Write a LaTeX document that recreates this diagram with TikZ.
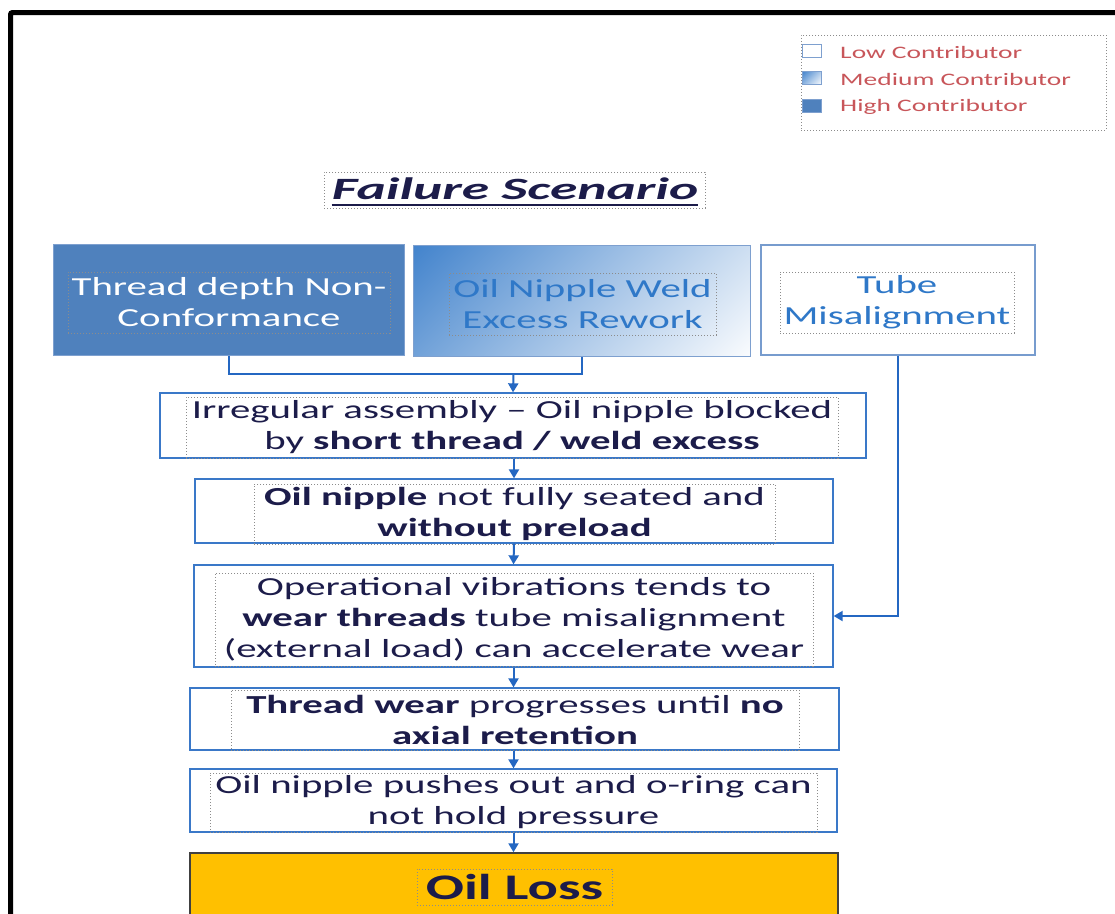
\documentclass[tikz,border=0pt]{standalone}
\usepackage{fontspec}
\setmainfont{Carlito}[FakeStretch=1.57]
\newfontfamily\titlefont{Carlito}[FakeStretch=1.79]
\usetikzlibrary{arrows.meta}

\definecolor{flow}{HTML}{2467C2}
\definecolor{boxline}{HTML}{3A78C8}
\definecolor{hifill}{HTML}{4F81BD}
\definecolor{hiline}{HTML}{7EA0CF}
\definecolor{midblue}{HTML}{1C6AC2}
\definecolor{labblue}{HTML}{2F78C8}
\definecolor{navy}{HTML}{1C1C4A}
\definecolor{legred}{HTML}{C8565A}
\definecolor{dotgray}{HTML}{8C8C8C}
\definecolor{oilfill}{HTML}{FFC000}
\definecolor{oilline}{HTML}{404040}

% medium contributor fill: blue in one corner fading to white in the opposite one
\pgfdeclareverticalshading{mediumfade}{100bp}{%
  color(0bp)=(white); color(15bp)=(white!97!midblue); color(50bp)=(midblue!42!white); color(100bp)=(midblue)}

\tikzset{
  box/.style={draw=boxline, line width=1.3pt, fill=white, minimum width=#1, inner sep=0pt},
  dotframe/.style={draw=dotgray, line width=0.9pt, dash pattern=on 1.4pt off 1.6pt},
  txtframe/.style={dotframe, inner sep=0pt, align=center,
    font=\fontsize{26}{31}\selectfont, text=navy},
  medium/.style={shading=mediumfade, shading angle=45},
  link/.style={draw=flow, line width=2pt},
  arr/.style={link, -{Triangle[width=10pt,length=9pt]}},
  legbox/.style={minimum width=19pt, minimum height=13pt, inner sep=0pt},
  legtxt/.style={anchor=west, inner sep=0pt, text=legred, font=\fontsize{17.5}{20}\selectfont},
}

\begin{document}
\begin{tikzpicture}[x=1pt, y=-1pt]
\useasboundingbox (0,0) rectangle (1115,913);
\clip (0,0) rectangle (1115,913);
\fill[white] (0,0) rectangle (1115,913);

% outer frame
\draw[line width=5pt, rounded corners=2pt] (10.5,938) -- (10.5,12.5) -- (1140,12.5);

% legend
\node[dotframe, minimum width=305pt, minimum height=95pt] (legend) at (953.5,82.5) {};
\node[legbox, draw=hiline, fill=white] (lowsq) at (812,50.5) {};
\node[legbox, draw=hiline, medium] (medsq) at (812,77.5) {};
\node[legbox, draw=hiline, fill=hifill] (hisq) at (812,105.5) {};
\node[legtxt] (lowt) at (840,52) {Low Contributor};
\node[legtxt] (medt) at (840,79) {Medium Contributor};
\node[legtxt] (hit) at (840,107) {High Contributor};

% title
\node[dotframe, minimum width=381pt, minimum height=36pt] (titlebox) at (514.5,190) {};
\node[inner sep=0pt, text=navy, font=\fontsize{31}{34}\titlefont\bfseries\itshape] (title) at (515,189) {Failure Scenario};
\draw[navy, line width=2.5pt] ([yshift=-5pt]title.base west) -- ([yshift=-5pt]title.base east);

% contributor boxes
\node[draw=hiline, line width=1pt, fill=hifill, minimum width=351pt, minimum height=111pt] (a) at (228.5,299.5) {};
\node[txtframe, text=white, minimum width=322pt, minimum height=61pt] (at) at (229,302.5) {Thread depth Non-\\Conformance};

\node[draw=hiline, line width=1pt, medium, minimum width=337pt, minimum height=111pt] (b) at (581.5,300.5) {};
\node[txtframe, text=labblue, minimum width=267pt, minimum height=62pt] (bt) at (582.5,304) {Oil Nipple Weld\\Excess Rework};

\node[draw=hiline!90!boxline, line width=1.3pt, fill=white, minimum width=274pt, minimum height=110pt] (c) at (898,300) {};
\node[txtframe, text=labblue, minimum width=234pt, minimum height=61pt] (ct) at (897,302.5) {Tube\\Misalignment};

% chain of events
\node[box=706pt, minimum height=65pt] (d) at (513,425.5) {};
\node[txtframe, minimum width=652pt, minimum height=61pt] (dt) at (512,427.5) {Irregular assembly -- Oil nipple blocked\\by \textbf{short thread / weld excess}};

\node[box=638pt, minimum height=64pt] (e) at (514,511) {};
\node[txtframe, minimum width=521pt, minimum height=60pt] (et) at (514.5,514) {\textbf{Oil nipple} not fully seated and\\\textbf{without preload}};

\node[box=639pt, minimum height=102pt] (f) at (513.5,616) {};
\node[txtframe, minimum width=598pt, minimum height=93pt] (ft) at (514,619.5) {Operational vibrations tends to\\\textbf{wear threads} tube misalignment\\(external load) can accelerate wear};

\node[box=649pt, minimum height=62pt] (g) at (514.5,719) {};
\node[txtframe, minimum width=568pt, minimum height=60pt] (gt) at (515,720) {\textbf{Thread wear} progresses until \textbf{no}\\\textbf{axial retention}};

\node[box=647pt, minimum height=63pt] (h) at (513.5,800.5) {};
\node[txtframe, minimum width=607pt, minimum height=59pt] (ht) at (513.5,802.5) {Oil nipple pushes out and o-ring can\\not hold pressure};

\node[draw=oilline, line width=1.5pt, fill=oilfill, minimum width=648pt, minimum height=80pt] (i) at (514,893) {};
\node[txtframe, minimum width=195pt, minimum height=36pt, font=\fontsize{36}{38}\selectfont\bfseries] (it) at (514.5,887) {Oil Loss};

% connectors
\coordinate (j) at (513.5,374);
\draw[link] (a.south) |- (j) -| (b.south);
\draw[arr] (j) -- (d.north);
\draw[arr] (d.south -| e.north) -- (e.north);
\draw[arr] (e.south) -- (f.north);
\draw[arr] (f.south) -- (f.south |- g.north);
\draw[arr] (g.south -| h.north) -- (h.north);
\draw[arr] (h.south) -- (h.south |- i.north);
\draw[arr] (c.south) |- (f.east);
\end{tikzpicture}
\end{document}
